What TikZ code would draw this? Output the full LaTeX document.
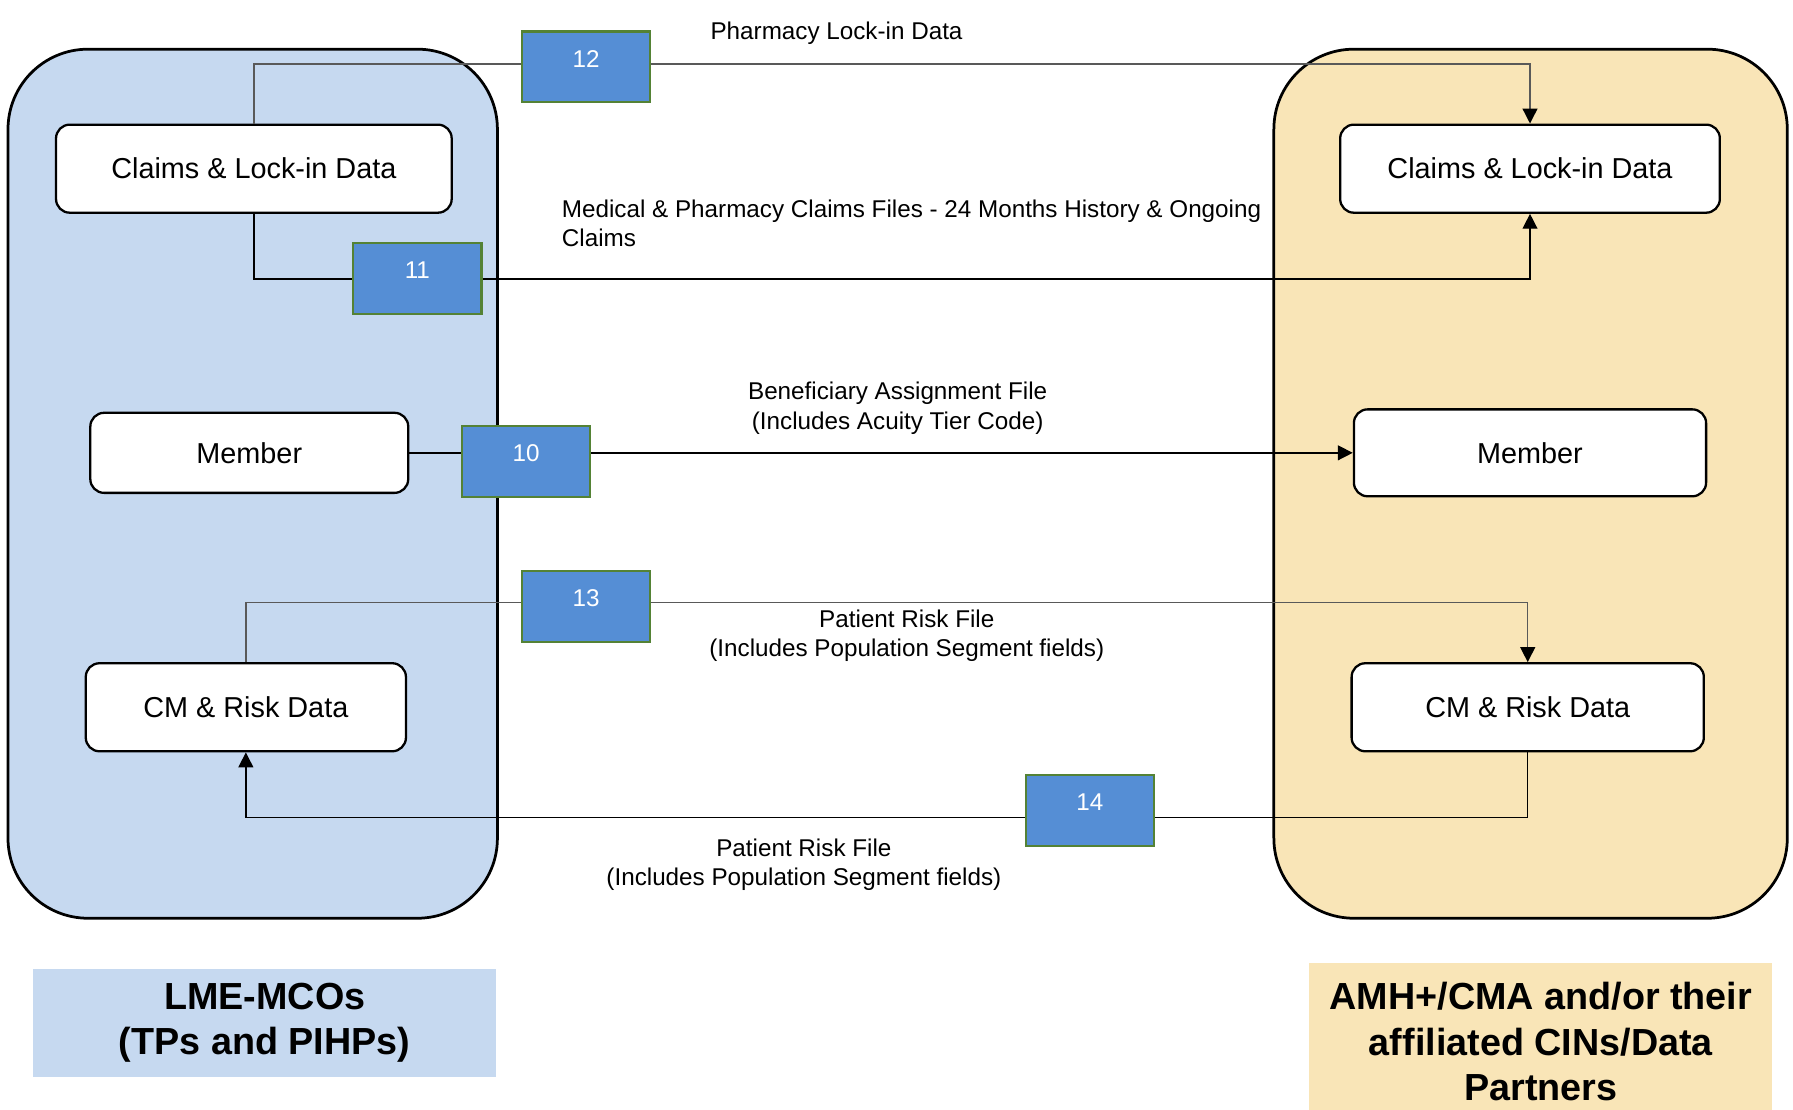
\documentclass[tikz,border=0pt]{standalone}
\usepackage{fontspec}
\setmainfont{Liberation Sans}
\usetikzlibrary{arrows.meta}

\definecolor{lmeblue}{RGB}{198,217,240}
\definecolor{amhtan}{RGB}{249,229,183}
\definecolor{numblue}{RGB}{85,142,213}
\definecolor{numgreen}{RGB}{84,130,53}

\tikzset{
  partybox/.style={draw, line width=1.2pt, rounded corners=35pt},
  databox/.style={draw, fill=white, line width=1pt, rounded corners=6pt,
    font=\fontsize{12.6}{15}\selectfont},
  numbox/.style={draw=numgreen, fill=numblue, line width=1pt,
    minimum width=56pt, minimum height=31pt, text=white,
    font=\fontsize{10.6}{13}\selectfont, text height=7.6pt, text depth=7.5pt},
  flow/.style={line width=0.6pt, -{Triangle[length=6.5pt,width=6.5pt,color=black]}},
  flowlabel/.style={font=\fontsize{10.6}{12.8}\selectfont, align=center, inner sep=0pt},
  footlabel/.style={font=\bfseries\fontsize{16.5}{19.8}\selectfont, align=center, inner sep=0pt}
}

\begin{document}
\begin{tikzpicture}[x=0.5pt,y=0.5pt,yscale=-1]
\useasboundingbox (0,0) rectangle (1568,970);

% the two parties
\node[partybox, fill=lmeblue, minimum width=214pt, minimum height=380pt] (lme) at (221,423) {};
\node[partybox, fill=amhtan, minimum width=224.5pt, minimum height=380pt] (amh) at (1338.5,423) {};

% data stores
\node[databox, minimum width=173pt, minimum height=38.5pt] (lclaims) at (222,147.5) {Claims \& Lock-in Data};
\node[databox, minimum width=139pt, minimum height=35pt] (lmember) at (218,396) {Member};
\node[databox, minimum width=140pt, minimum height=38.5pt] (lcm) at (215,618.5) {CM \& Risk Data};
\node[databox, minimum width=166pt, minimum height=38.5pt] (rclaims) at (1338,147.5) {Claims \& Lock-in Data};
\node[databox, minimum width=154pt, minimum height=38pt] (rmember) at (1338,396) {Member};
\node[databox, minimum width=154pt, minimum height=38.5pt] (rcm) at (1336,618.5) {CM \& Risk Data};

% flows
\draw[flow, black!65] (lclaims.north) -- ++(0,-52) -| (rclaims.north);
\draw[flow] (lclaims.south) -- ++(0,57) -| (rclaims.south);
\draw[flow] (lmember) -- (rmember);
\draw[flow, black!65] (lcm.north) -- ++(0,-52) -| (rcm.north);
\draw[flow] (rcm.south) -- ++(0,57) -| (lcm.south);

% numbers
\node[numbox] (n12) at (512.5,58.5) {12};
\node[numbox] (n11) at (365,243.5) {11};
\node[numbox] (n10) at (460,403.5) {10};
\node[numbox] (n13) at (512.5,530.5) {13};
\node[numbox] (n14) at (953,709) {14};

% flow texts
\node[flowlabel, anchor=west] (l12) at (621,29) {Pharmacy Lock-in Data};
\node[flowlabel, anchor=west, align=left] (l11) at (491,195.5) {Medical \& Pharmacy Claims Files - 24 Months History \& Ongoing\\Claims};
\node[flowlabel] (l10) at (785,357) {Beneficiary Assignment File\\(Includes Acuity Tier Code)};
\node[flowlabel] (l13) at (793,556) {Patient Risk File\\(Includes Population Segment fields)};
\node[flowlabel] (l14) at (703,756) {Patient Risk File\\(Includes Population Segment fields)};

% names
\node[footlabel, fill=lmeblue, minimum width=202.5pt, minimum height=47.5pt] (lmename) at (231.5,894.5) {LME-MCOs\\(TPs and PIHPs)};
\node[footlabel, fill=amhtan, minimum width=202.5pt, minimum height=69pt] (amhname) at (1347.5,911) {AMH+/CMA and/or their\\affiliated CINs/Data\\Partners};

\end{tikzpicture}
\end{document}
